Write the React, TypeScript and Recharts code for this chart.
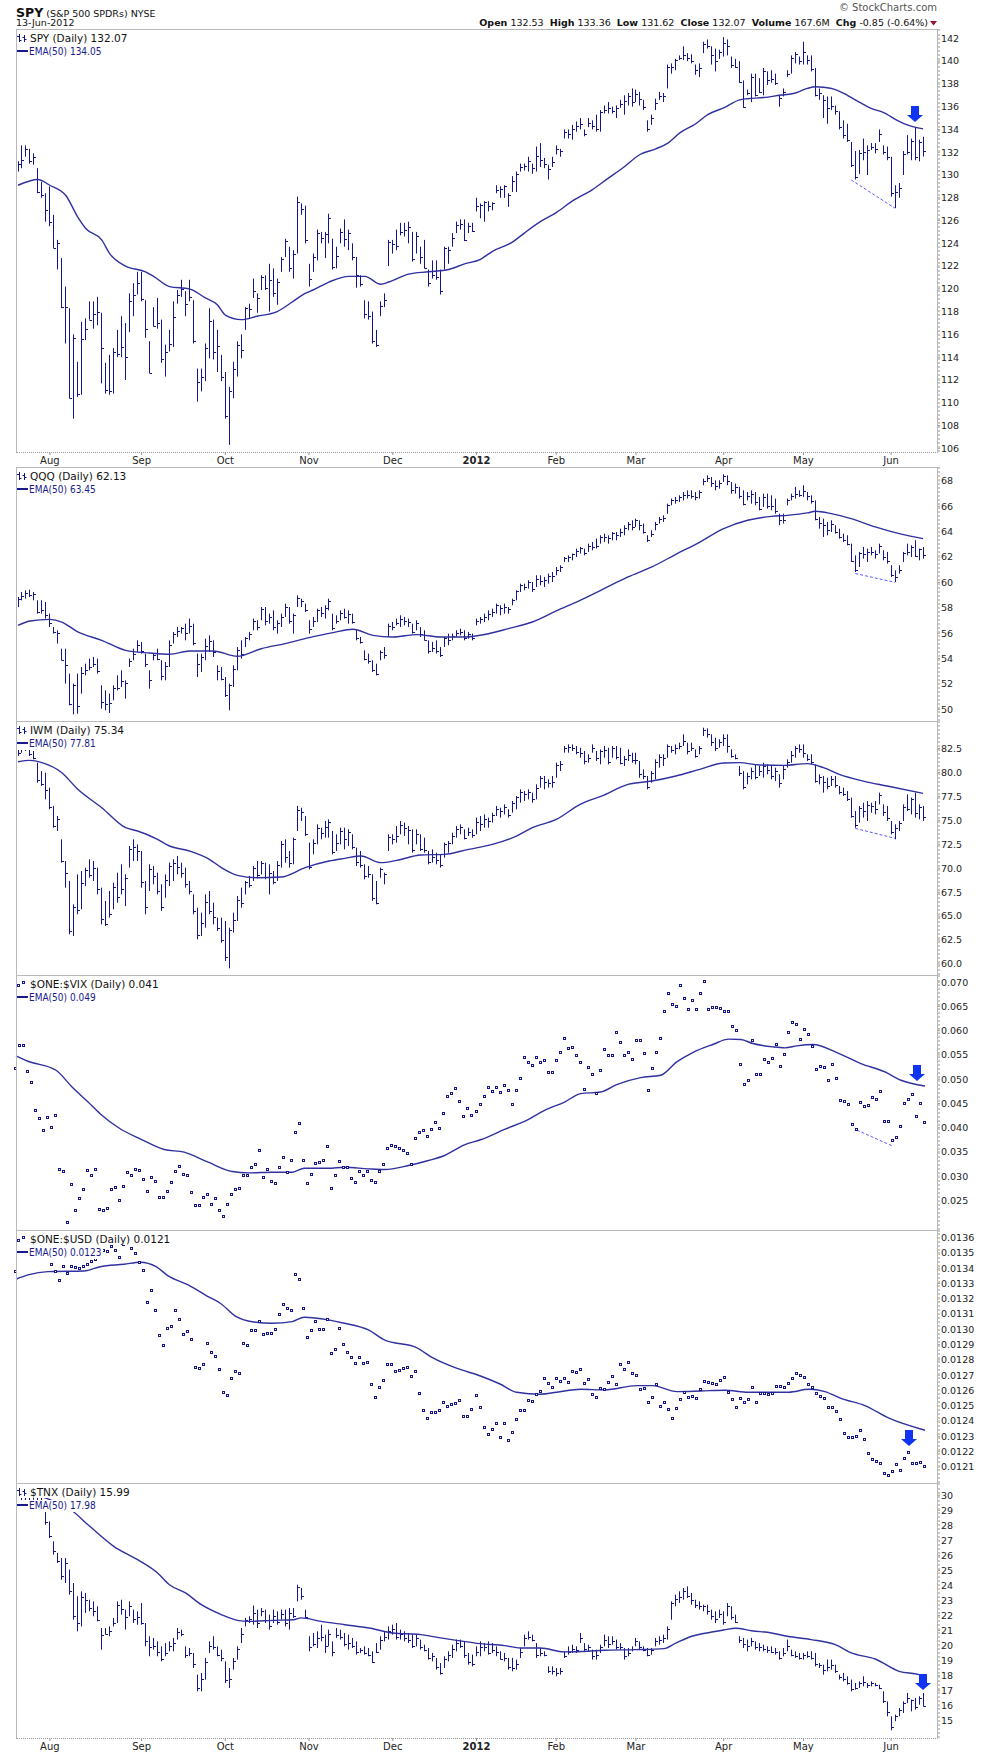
import React from 'react'
import { ComposedChart, Bar, Line, XAxis, YAxis, ReferenceLine, ReferenceDot } from 'recharts'

const FONT = "'DejaVu Sans', Verdana, sans-serif"
const NARROW = "'DejaVu Sans Condensed', 'Liberation Sans Narrow', 'DejaVu Sans', sans-serif"
const BAR_BLUE = '#14148c'
const EMA_BLUE = '#30309f'
const ARROW_BLUE = '#1034f2'
const DASH_BLUE = '#5c5cff'

// 228 trading days (20-Jul-2011 .. 13-Jun-2012) plus 3 empty slots at the right edge
const SLOTS = 231

// first trading day of each month (day index) and its label
const monthDays = [8, 31, 52, 73, 94, 115, 135, 155, 177, 197, 219]
const monthNames = ['Aug', 'Sep', 'Oct', 'Nov', 'Dec', '2012', 'Feb', 'Mar', 'Apr', 'May', 'Jun']

type Pair = [number, number]

// ---------------- SPY ----------------
const spyHigh = [
  131.2, 132.6, 132.6, 132.3, 131.9, 130.6, 129.4, 128.4, 129.0, 126.5,
  124.3, 122.7, 120.2, 118.3, 116.0, 113.6, 117.1, 117.4, 118.9, 118.9,
  119.3, 117.9, 113.5, 114.2, 114.8, 116.4, 117.6, 117.0, 119.6, 120.5,
  121.5, 121.5, 119.0, 115.4, 118.4, 119.2, 117.3, 115.1, 116.4, 118.9,
  119.9, 120.8, 119.8, 120.8, 119.0, 113.0, 113.0, 115.2, 118.3, 117.3,
  116.4, 114.2, 112.7, 111.4, 113.6, 115.4, 116.0, 118.4, 118.7, 120.9,
  119.6, 121.2, 121.2, 122.2, 121.8, 120.9, 122.8, 124.4, 123.7, 123.4,
  128.1, 127.5, 127.3, 122.2, 123.1, 125.2, 125.0, 125.0, 126.6, 124.4,
  123.7, 125.3, 126.1, 125.2, 124.0, 122.8, 121.2, 119.0, 118.9, 118.0,
  116.4, 118.9, 119.6, 124.3, 124.3, 125.2, 125.8, 125.8, 125.9, 125.0,
  125.0, 123.7, 124.3, 121.7, 122.5, 122.5, 121.7, 123.7, 123.7, 124.9,
  125.9, 126.1, 126.1, 125.8, 125.8, 128.0, 127.5, 127.7, 127.7, 127.6,
  129.1, 129.0, 129.1, 128.4, 129.9, 130.3, 131.0, 131.0, 131.6, 131.0,
  132.5, 132.8, 131.5, 130.9, 131.6, 132.6, 132.3, 134.0, 134.0, 134.4,
  134.7, 135.0, 134.0, 135.0, 134.8, 135.3, 135.7, 136.1, 136.4, 136.0,
  136.1, 136.6, 137.0, 137.2, 137.6, 137.5, 137.3, 136.6, 134.8, 135.3,
  136.7, 137.3, 137.2, 139.7, 139.8, 140.2, 140.5, 141.3, 140.7, 140.6,
  139.7, 139.8, 141.7, 141.9, 141.3, 141.1, 141.0, 142.1, 141.9, 140.4,
  140.2, 140.0, 138.3, 137.5, 138.9, 138.9, 138.5, 139.4, 139.1, 139.2,
  138.9, 137.0, 137.6, 139.2, 140.5, 140.8, 140.4, 141.7, 140.5, 140.5,
  139.4, 137.6, 137.0, 136.9, 136.9, 136.1, 135.6, 134.8, 134.5, 132.9,
  132.1, 132.2, 133.2, 132.6, 132.8, 132.8, 134.0, 132.6, 132.5, 131.6,
  129.1, 129.3, 132.1, 133.5, 133.2, 134.2, 133.1, 133.36,
]
const spyLow = [
  130.3, 130.6, 131.6, 131.0, 130.9, 128.4, 128.0, 125.9, 125.5, 123.6,
  121.7, 118.3, 115.2, 110.4, 108.6, 110.5, 110.7, 115.5, 117.3, 116.5,
  116.8, 111.7, 110.8, 110.7, 110.8, 114.0, 114.0, 112.0, 116.2, 117.6,
  119.5, 118.9, 115.7, 112.6, 116.7, 116.5, 113.5, 112.3, 114.5, 114.9,
  118.7, 119.3, 117.6, 118.9, 115.2, 110.1, 111.0, 111.9, 113.9, 113.8,
  112.7, 111.9, 108.6, 106.3, 110.4, 112.3, 113.9, 116.4, 117.4, 119.2,
  117.9, 119.9, 119.9, 118.0, 119.3, 118.6, 121.5, 122.8, 121.5, 120.9,
  123.1, 126.5, 124.0, 120.2, 121.5, 122.5, 124.0, 122.7, 124.0, 121.7,
  121.8, 124.0, 123.7, 123.4, 122.5, 120.1, 120.2, 117.4, 117.3, 115.2,
  114.9, 117.6, 118.4, 122.0, 123.1, 123.4, 124.7, 124.6, 124.0, 122.4,
  123.1, 122.2, 121.8, 120.2, 120.9, 120.8, 119.5, 121.7, 122.2, 123.7,
  124.9, 125.2, 124.2, 124.9, 125.0, 126.8, 126.2, 125.9, 126.8, 126.9,
  128.4, 128.0, 128.0, 127.2, 128.5, 128.5, 130.3, 130.4, 130.3, 130.1,
  130.3, 130.7, 130.6, 129.6, 130.7, 131.8, 131.6, 133.2, 133.2, 133.1,
  133.8, 134.0, 133.4, 134.2, 134.0, 133.8, 133.8, 135.4, 135.4, 135.4,
  135.0, 135.9, 135.3, 136.1, 136.0, 136.4, 136.1, 135.7, 133.8, 134.4,
  135.7, 136.6, 136.4, 137.6, 138.9, 139.2, 140.1, 140.1, 140.0, 139.8,
  138.8, 138.6, 140.7, 141.1, 139.7, 139.1, 140.2, 140.4, 140.5, 139.4,
  139.4, 138.1, 135.9, 137.0, 136.4, 136.9, 137.2, 137.0, 137.9, 138.1,
  137.9, 136.0, 136.9, 138.6, 138.9, 139.8, 139.7, 139.7, 139.7, 139.1,
  136.9, 136.6, 135.0, 134.5, 135.7, 135.3, 134.0, 133.2, 132.9, 130.7,
  129.6, 130.1, 131.3, 130.0, 132.2, 131.9, 132.9, 131.8, 131.3, 128.1,
  127.1, 128.0, 130.0, 131.8, 131.3, 131.3, 131.2, 131.62,
]
const spyClose = [
  131.0, 131.3, 132.3, 131.2, 131.6, 128.5, 128.2, 126.9, 125.9, 123.6,
  124.0, 118.4, 118.4, 110.4, 115.7, 110.8, 115.6, 116.5, 117.3, 117.8,
  118.0, 114.8, 111.1, 111.0, 114.5, 114.3, 114.9, 114.0, 118.9, 119.5,
  120.5, 119.1, 116.5, 112.6, 116.7, 117.0, 113.8, 114.5, 115.2, 117.5,
  119.5, 120.0, 118.7, 119.3, 115.4, 111.8, 112.3, 114.8, 117.2, 114.5,
  115.0, 112.3, 108.8, 111.0, 113.0, 115.1, 114.6, 118.3, 118.2, 119.8,
  119.2, 121.0, 120.1, 120.8, 119.6, 120.6, 122.6, 124.2, 121.8, 123.1,
  127.6, 127.0, 124.3, 120.9, 122.8, 124.9, 124.5, 124.8, 126.2, 121.9,
  122.9, 125.0, 124.4, 124.9, 122.8, 121.2, 120.4, 117.8, 117.6, 115.4,
  115.1, 118.5, 119.0, 124.1, 123.9, 123.8, 125.0, 125.2, 125.4, 122.6,
  124.6, 122.8, 121.8, 120.5, 121.2, 121.0, 119.8, 123.6, 123.4, 124.5,
  125.6, 125.7, 124.3, 125.5, 125.1, 127.3, 127.4, 127.6, 127.3, 127.5,
  128.7, 128.8, 129.0, 128.2, 129.5, 130.1, 130.7, 130.8, 131.2, 130.6,
  131.7, 131.3, 131.0, 130.5, 131.1, 132.3, 132.1, 133.8, 133.6, 134.0,
  134.3, 134.5, 133.6, 134.6, 134.3, 134.0, 135.5, 135.7, 135.9, 135.6,
  135.9, 136.2, 136.5, 136.9, 136.4, 137.1, 136.7, 136.0, 134.0, 135.0,
  136.3, 136.9, 136.9, 139.5, 139.5, 140.1, 140.3, 140.5, 140.3, 140.0,
  139.2, 139.4, 141.5, 141.3, 140.5, 140.0, 140.8, 141.6, 141.3, 139.7,
  139.5, 138.2, 136.0, 137.2, 138.6, 137.0, 137.3, 139.1, 138.3, 138.4,
  138.1, 136.8, 137.3, 138.9, 140.3, 140.6, 140.0, 140.8, 140.1, 139.3,
  137.0, 137.2, 136.6, 135.9, 136.1, 135.6, 134.2, 133.5, 133.1, 130.9,
  129.8, 131.9, 132.0, 132.2, 132.5, 132.3, 133.6, 132.0, 131.6, 128.4,
  128.5, 128.9, 131.8, 132.0, 133.0, 131.6, 132.9, 132.07,
]
// [day, EMA(50)]
const spyEma: Pair[] = [
  [0, 129.1], [5, 129.6], [8, 129.1], [12, 128.2], [15, 126.3], [17, 125.3], [21, 124.3], [23, 123.1],
  [27, 122.0], [32, 121.5], [34, 121.1], [38, 120.2], [43, 120.0], [47, 119.2], [50, 118.6], [52, 117.7],
  [56, 117.3], [60, 117.6], [65, 118.0], [69, 118.9], [72, 119.6], [74, 119.9], [78, 120.6], [83, 121.1],
  [87, 121.1], [91, 120.4], [93, 120.6], [98, 121.3], [103, 121.5], [108, 121.7], [112, 122.2], [116, 122.6],
  [119, 123.3], [124, 124.1], [127, 124.9], [131, 125.9], [135, 126.7], [139, 127.7], [144, 128.7], [148, 129.7],
  [152, 130.7], [156, 131.8], [160, 132.3], [163, 132.8], [166, 133.7], [170, 134.5], [173, 135.3], [177, 135.9],
  [181, 136.6], [183, 136.7], [187, 136.8], [191, 137.0], [195, 137.2], [198, 137.6], [200, 137.75], [202, 137.7],
  [205, 137.5], [208, 137.0], [211, 136.4], [214, 135.85], [217, 135.5], [221, 134.7], [223, 134.4], [227, 134.05],
]
const spyTicks = [106, 108, 110, 112, 114, 116, 118, 120, 122, 124, 126, 128, 130, 132, 134, 136, 138, 140, 142]

// ---------------- QQQ ----------------
const qqqHigh = [
  58.85, 59.25, 59.38, 59.43, 59.25, 58.59, 58.59, 58.46, 57.54, 56.49,
  56.23, 54.78, 54.78, 52.82, 52.03, 52.82, 53.34, 53.6, 54.0, 54.13,
  54.0, 51.9, 51.5, 51.24, 51.9, 52.68, 53.08, 52.29, 54.0, 54.78,
  55.44, 55.31, 54.39, 53.08, 54.39, 54.78, 53.87, 53.73, 55.44, 56.1,
  56.49, 56.49, 56.75, 57.15, 56.75, 54.39, 54.39, 55.57, 55.83, 55.44,
  53.47, 53.34, 52.55, 52.03, 53.47, 54.91, 55.44, 55.7, 56.1, 57.15,
  57.02, 58.06, 58.06, 57.54, 57.8, 57.02, 57.54, 58.33, 58.06, 57.54,
  58.98, 58.72, 58.33, 57.02, 57.28, 57.93, 58.06, 58.2, 58.72, 57.54,
  57.41, 57.8, 57.93, 57.8, 57.54, 56.23, 55.7, 54.65, 54.39, 53.87,
  53.6, 54.65, 54.91, 56.75, 56.88, 57.15, 57.41, 57.28, 57.15, 56.75,
  57.02, 56.49, 56.23, 55.44, 55.31, 55.44, 54.91, 55.7, 55.97, 55.97,
  56.23, 56.36, 56.23, 56.1, 55.97, 57.15, 57.28, 57.54, 57.8, 57.93,
  58.33, 58.2, 58.33, 58.06, 58.72, 59.38, 59.9, 59.9, 60.17, 60.03,
  60.56, 60.56, 60.43, 60.69, 60.82, 61.21, 61.35, 62.0, 62.13, 62.27,
  62.66, 62.79, 62.66, 63.05, 63.18, 63.45, 63.71, 63.84, 63.71, 63.97,
  63.97, 64.23, 64.5, 64.76, 64.89, 65.02, 64.89, 64.63, 63.71, 64.1,
  64.76, 65.15, 65.28, 66.2, 66.6, 66.73, 66.86, 67.12, 67.25, 67.25,
  67.12, 67.25, 68.17, 68.43, 68.3, 68.04, 68.04, 68.51, 68.43, 67.91,
  67.78, 67.52, 67.25, 67.12, 67.25, 67.12, 66.73, 66.99, 66.99, 66.86,
  66.6, 65.41, 65.41, 66.6, 66.99, 67.52, 67.25, 67.65, 67.12, 66.86,
  66.46, 65.15, 65.02, 64.76, 64.89, 64.5, 64.23, 63.84, 63.71, 63.05,
  62.13, 62.4, 62.79, 62.66, 62.79, 62.53, 63.05, 62.53, 62.4, 61.35,
  60.95, 61.35, 62.4, 63.05, 62.92, 63.32, 62.66, 62.79,
]
const qqqLow = [
  58.06, 58.59, 58.72, 58.85, 58.59, 57.54, 57.54, 57.15, 56.49, 55.97,
  55.18, 53.87, 52.03, 50.32, 49.61, 49.66, 51.24, 52.68, 53.08, 53.34,
  52.82, 50.06, 49.93, 49.72, 50.72, 51.5, 51.76, 50.85, 53.34, 53.87,
  54.52, 54.39, 53.34, 51.63, 53.87, 53.87, 52.29, 52.29, 53.34, 55.18,
  55.7, 55.97, 55.44, 55.97, 55.05, 52.55, 52.95, 53.87, 54.52, 54.13,
  52.29, 52.29, 50.98, 49.93, 51.76, 53.08, 54.0, 54.91, 55.44, 56.23,
  56.23, 57.02, 56.62, 56.75, 56.23, 55.97, 56.49, 57.28, 56.75, 55.97,
  58.06, 58.06, 57.67, 55.97, 56.49, 56.88, 57.28, 57.15, 57.8, 56.23,
  56.75, 57.02, 57.15, 56.75, 56.75, 55.44, 55.18, 53.87, 53.6, 52.95,
  52.68, 53.87, 54.0, 55.7, 56.23, 56.62, 56.49, 56.62, 56.49, 55.97,
  56.23, 55.7, 55.44, 54.39, 54.52, 54.39, 54.13, 54.91, 55.05, 55.44,
  55.7, 55.83, 55.44, 55.57, 55.44, 56.62, 56.75, 56.88, 57.02, 57.28,
  57.54, 57.41, 57.54, 57.54, 58.2, 58.59, 59.25, 59.38, 59.51, 59.25,
  59.64, 59.77, 59.64, 59.9, 60.03, 60.56, 60.82, 61.61, 61.61, 61.74,
  62.0, 62.27, 62.13, 62.4, 62.53, 62.66, 63.05, 63.18, 63.05, 63.32,
  63.32, 63.58, 63.71, 64.1, 64.1, 64.37, 64.1, 63.84, 63.18, 63.58,
  64.1, 64.63, 64.76, 65.41, 66.07, 66.2, 66.33, 66.46, 66.6, 66.6,
  66.46, 66.6, 67.65, 67.91, 67.52, 67.25, 67.38, 67.91, 67.65, 66.99,
  66.99, 66.6, 66.07, 66.46, 66.2, 66.07, 65.68, 65.94, 65.81, 65.68,
  65.41, 64.5, 64.63, 66.07, 66.46, 66.6, 66.73, 66.73, 66.46, 66.2,
  64.89, 64.23, 63.58, 63.71, 63.97, 63.84, 63.45, 63.18, 62.92, 61.61,
  60.82, 61.21, 61.87, 61.61, 62.13, 61.87, 62.27, 61.74, 61.48, 60.43,
  60.03, 60.69, 61.61, 62.13, 62.0, 62.0, 61.74, 61.87,
]
const qqqClose = [
  58.7, 58.9, 59.2, 59.0, 59.1, 57.7, 57.8, 57.4, 56.8, 56.1,
  56.0, 53.9, 53.5, 50.4, 51.9, 50.3, 52.9, 53.1, 53.3, 53.6,
  53.0, 50.6, 50.4, 50.5, 51.7, 51.7, 52.2, 52.1, 53.8, 54.4,
  55.1, 54.6, 53.6, 52.3, 54.3, 54.0, 52.6, 53.4, 55.1, 55.9,
  56.2, 56.4, 56.0, 56.6, 55.2, 53.6, 54.1, 55.0, 55.4, 54.5,
  53.0, 52.4, 51.1, 51.9, 53.2, 54.7, 54.4, 55.6, 55.9, 57.0,
  56.5, 57.9, 57.0, 57.3, 56.5, 56.8, 57.3, 58.1, 57.0, 57.4,
  58.8, 58.5, 57.8, 56.3, 57.0, 57.8, 57.6, 58.0, 58.5, 56.4,
  57.0, 57.6, 57.3, 57.5, 56.9, 55.6, 55.3, 54.0, 53.8, 53.1,
  52.8, 54.5, 54.3, 56.6, 56.5, 56.8, 57.1, 57.0, 56.9, 56.1,
  56.8, 55.9, 55.5, 54.6, 54.8, 54.6, 54.3, 55.6, 55.5, 55.8,
  56.0, 56.1, 55.6, 55.9, 55.6, 57.0, 57.1, 57.3, 57.5, 57.7,
  58.2, 58.0, 58.1, 57.9, 58.6, 59.3, 59.8, 59.6, 60.0, 59.5,
  60.3, 60.1, 60.2, 60.5, 60.5, 61.0, 61.2, 61.9, 62.0, 62.2,
  62.5, 62.7, 62.3, 62.9, 62.8, 62.9, 63.6, 63.6, 63.5, 63.9,
  63.7, 64.0, 64.3, 64.6, 64.4, 64.9, 64.5, 64.0, 63.3, 63.8,
  64.6, 65.0, 65.1, 66.1, 66.5, 66.5, 66.7, 66.9, 66.9, 66.8,
  66.7, 67.1, 68.0, 68.2, 67.8, 67.6, 67.8, 68.4, 68.0, 67.3,
  67.5, 66.8, 66.2, 66.8, 67.0, 66.3, 65.8, 66.7, 66.0, 66.0,
  65.6, 64.9, 64.9, 66.5, 66.8, 67.0, 66.9, 67.2, 66.8, 66.4,
  65.0, 64.7, 64.5, 64.1, 64.6, 64.0, 63.6, 63.3, 63.0, 61.7,
  61.0, 62.3, 62.2, 62.4, 62.4, 62.2, 62.9, 62.0, 61.7, 60.6,
  60.4, 61.0, 62.3, 62.4, 62.8, 62.1, 62.6, 62.13,
]
const qqqEma: Pair[] = [
  [0, 56.62], [3, 56.96], [8, 57.09], [11, 56.88], [15, 56.1], [21, 55.44], [27, 54.65], [33, 54.44],
  [38, 54.34], [43, 54.6], [49, 54.6], [55, 54.18], [61, 54.78], [67, 55.18], [73, 55.65], [79, 56.05],
  [84, 56.31], [89, 55.83], [94, 55.7], [100, 55.89], [106, 55.7], [112, 55.7], [118, 55.96], [123, 56.36],
  [129, 56.88], [135, 57.75], [141, 58.59], [147, 59.51], [153, 60.43], [159, 61.22], [165, 62.21], [171, 63.18],
  [177, 64.23], [183, 64.89], [189, 65.2], [193, 65.28], [198, 65.47], [200, 65.6], [204, 65.42], [209, 65.02],
  [215, 64.37], [221, 63.84], [227, 63.45],
]
const qqqTicks = [50, 52, 54, 56, 58, 60, 62, 64, 66, 68]

// ---------------- IWM ----------------
const iwmHigh = [
  82.41, 82.76, 82.86, 82.76, 82.24, 81.02, 80.15, 79.98, 78.41, 76.5,
  75.45, 73.02, 70.75, 68.67, 66.23, 69.36, 69.71, 70.06, 70.93, 70.75,
  70.06, 67.97, 66.58, 67.62, 68.49, 69.53, 70.41, 69.36, 72.32, 73.02,
  72.49, 71.8, 68.67, 70.41, 70.23, 69.53, 68.32, 69.36, 70.58, 70.93,
  71.28, 70.58, 70.06, 68.67, 67.27, 65.88, 65.36, 67.27, 67.62, 66.4,
  64.84, 64.84, 64.49, 63.79, 65.36, 67.1, 67.97, 68.67, 69.19, 70.23,
  70.75, 70.75, 70.58, 70.41, 69.71, 70.75, 72.84, 73.02, 71.8, 73.19,
  76.5, 76.32, 75.45, 72.67, 73.02, 74.58, 74.23, 74.93, 75.1, 73.89,
  73.54, 74.23, 74.23, 74.06, 73.54, 72.15, 71.8, 70.41, 70.23, 69.36,
  68.67, 70.06, 69.54, 73.54, 73.54, 74.41, 74.93, 74.76, 74.41, 74.06,
  74.06, 73.54, 73.19, 71.8, 71.97, 71.62, 71.45, 72.67, 72.84, 73.71,
  74.41, 74.58, 74.06, 74.23, 74.06, 75.28, 75.45, 75.62, 75.28, 75.8,
  76.5, 76.32, 76.67, 76.15, 77.02, 77.54, 78.24, 78.06, 78.24, 77.89,
  78.76, 79.63, 79.63, 79.28, 79.63, 81.02, 81.2, 82.76, 82.93, 82.93,
  82.76, 82.58, 82.24, 81.89, 82.93, 82.24, 82.41, 82.76, 82.58, 82.76,
  82.76, 82.58, 81.72, 82.41, 82.06, 82.06, 81.2, 80.32, 79.63, 80.15,
  81.37, 81.89, 81.89, 82.93, 82.76, 82.93, 83.11, 83.98, 83.11, 83.11,
  82.41, 82.76, 84.67, 84.6, 83.98, 83.63, 83.46, 83.98, 83.98, 82.41,
  81.89, 80.67, 80.15, 79.98, 80.5, 80.85, 80.67, 81.02, 80.85, 80.67,
  80.5, 79.8, 80.67, 81.37, 82.24, 82.76, 82.93, 82.93, 81.89, 81.89,
  80.85, 79.8, 79.63, 79.45, 79.63, 79.63, 78.58, 78.41, 78.06, 77.37,
  75.97, 76.5, 76.84, 77.02, 76.84, 77.02, 77.89, 76.67, 76.5, 74.93,
  74.58, 74.93, 76.67, 77.71, 77.37, 77.89, 76.67, 76.5,
]
const iwmLow = [
  81.72, 82.06, 82.24, 81.72, 81.37, 78.93, 78.58, 77.19, 76.15, 74.23,
  73.89, 70.58, 67.97, 63.1, 62.92, 65.19, 65.71, 68.14, 69.01, 68.67,
  67.27, 64.14, 63.97, 64.84, 65.71, 66.4, 67.27, 66.05, 70.06, 70.75,
  70.75, 67.97, 65.19, 67.62, 68.32, 67.27, 65.54, 66.92, 68.14, 68.67,
  69.36, 69.01, 67.97, 67.27, 65.19, 62.58, 62.92, 63.79, 65.19, 64.14,
  63.45, 62.23, 60.31, 59.55, 63.27, 64.49, 65.88, 67.27, 67.97, 68.67,
  69.01, 69.36, 68.84, 67.27, 68.32, 68.67, 70.06, 70.58, 70.06, 70.41,
  73.89, 74.93, 73.37, 69.88, 71.45, 72.49, 73.02, 73.19, 73.19, 71.45,
  71.8, 72.49, 71.97, 72.32, 71.97, 70.23, 70.06, 68.84, 69.01, 66.58,
  66.23, 69.01, 68.32, 71.8, 72.49, 72.67, 73.54, 73.37, 72.49, 71.62,
  72.49, 71.8, 71.62, 70.41, 70.58, 70.41, 70.06, 71.1, 71.62, 72.49,
  73.19, 73.54, 73.02, 73.37, 73.19, 73.54, 73.89, 74.23, 74.23, 74.76,
  75.45, 75.28, 75.62, 75.28, 75.8, 76.15, 76.84, 77.02, 77.19, 76.84,
  77.19, 78.41, 78.24, 78.41, 78.41, 79.45, 80.15, 82.06, 82.06, 82.24,
  81.89, 81.54, 80.85, 81.02, 82.06, 81.2, 80.85, 81.54, 80.85, 81.54,
  81.37, 80.85, 80.67, 81.2, 81.02, 80.85, 79.45, 79.28, 78.24, 78.93,
  79.28, 80.5, 80.67, 81.54, 82.06, 81.89, 82.41, 82.76, 81.89, 82.24,
  81.54, 81.89, 83.8, 83.63, 82.76, 82.24, 82.58, 82.76, 82.06, 81.54,
  81.37, 79.63, 78.24, 78.76, 79.28, 79.28, 79.63, 79.45, 79.8, 79.28,
  79.1, 78.41, 79.28, 80.5, 81.02, 81.54, 82.06, 81.54, 81.2, 80.85,
  78.93, 78.76, 77.89, 78.24, 78.58, 78.41, 77.71, 77.54, 77.02, 75.28,
  74.23, 74.76, 75.28, 74.93, 75.8, 75.62, 76.67, 75.45, 74.93, 73.54,
  73.02, 73.89, 74.93, 75.97, 75.62, 75.28, 75.1, 74.93,
]
const iwmClose = [
  82.0, 82.5, 82.7, 81.9, 81.5, 79.2, 78.8, 78.2, 76.4, 74.4,
  75.1, 70.8, 69.5, 63.4, 66.0, 65.6, 68.5, 69.8, 69.3, 70.0,
  67.8, 64.7, 64.2, 65.2, 68.0, 67.0, 67.8, 69.0, 72.0, 72.2,
  71.8, 68.6, 65.9, 69.9, 69.2, 67.6, 66.0, 68.8, 70.2, 70.5,
  70.1, 69.5, 68.4, 67.6, 65.5, 63.0, 64.3, 66.5, 65.5, 64.9,
  63.8, 62.5, 60.7, 63.5, 64.6, 66.7, 66.4, 68.6, 68.3, 70.0,
  69.3, 70.5, 69.1, 69.5, 68.6, 70.3, 72.5, 71.2, 70.5, 73.0,
  76.1, 75.9, 73.6, 70.1, 72.6, 74.2, 73.7, 74.3, 74.8, 71.7,
  72.6, 73.9, 73.0, 73.8, 72.2, 70.6, 70.3, 69.2, 69.4, 66.9,
  66.4, 69.9, 69.4, 73.3, 73.0, 73.4, 74.5, 74.2, 74.0, 71.9,
  73.6, 72.0, 71.9, 70.7, 71.2, 70.9, 70.3, 72.5, 72.6, 73.4,
  74.1, 74.3, 73.2, 73.8, 73.5, 74.8, 74.6, 75.1, 74.9, 75.6,
  76.2, 76.0, 76.4, 75.6, 76.8, 77.4, 78.0, 77.8, 78.0, 77.2,
  78.4, 79.4, 79.0, 78.9, 79.0, 80.8, 80.9, 82.5, 82.7, 82.5,
  82.1, 82.0, 81.2, 81.5, 82.6, 81.5, 82.2, 82.3, 81.1, 82.5,
  81.6, 81.0, 81.4, 81.8, 81.3, 81.3, 79.8, 79.6, 78.5, 79.9,
  81.1, 81.6, 81.5, 82.8, 82.3, 82.6, 82.8, 83.3, 82.2, 82.6,
  81.7, 82.6, 84.4, 84.0, 83.2, 82.6, 83.2, 83.6, 82.8, 81.7,
  81.5, 79.9, 78.5, 79.6, 80.2, 79.5, 80.2, 80.7, 80.3, 79.6,
  80.1, 78.9, 80.4, 81.1, 81.8, 82.5, 82.4, 82.0, 81.4, 81.1,
  79.1, 79.5, 79.0, 78.6, 79.3, 78.7, 78.0, 77.7, 77.2, 75.5,
  74.5, 76.3, 76.0, 76.6, 76.5, 76.2, 77.6, 75.9, 75.2, 73.8,
  74.2, 74.7, 76.4, 76.2, 77.2, 75.8, 76.4, 75.34,
]
const iwmEma: Pair[] = [
  [0, 81.12], [3, 81.26], [6, 81.02], [11, 79.97], [15, 78.24], [21, 76.32], [27, 74.23], [30, 73.89],
  [35, 73.02], [38, 72.32], [43, 71.8], [48, 70.93], [51, 70.06], [55, 69.26], [60, 69.01], [66, 69.08],
  [72, 70.06], [78, 70.75], [82, 71.03], [86, 71.28], [91, 70.58], [95, 70.82], [101, 71.38], [107, 71.45],
  [113, 71.97], [119, 72.49], [125, 73.36], [129, 74.23], [135, 75.1], [141, 76.67], [147, 77.64], [153, 78.76],
  [159, 79.1], [165, 79.63], [171, 80.32], [177, 80.98], [181, 81.02], [186, 80.78], [192, 80.74], [198, 80.92],
  [202, 80.5], [206, 79.8], [212, 79.1], [218, 78.58], [227, 77.81],
]
const iwmTicks = [60, 62.5, 65, 67.5, 70, 72.5, 75, 77.5, 80, 82.5]

// ---------------- $ONE:$VIX ----------------
const vixRatio = [
  0.05219, 0.0568, 0.05694, 0.0515, 0.0493, 0.04337, 0.04186, 0.03938, 0.042, 0.04,
  0.04248, 0.03139, 0.03097, 0.02037, 0.02822, 0.02285, 0.02533, 0.02719, 0.03111, 0.03008,
  0.03132, 0.02306, 0.02292, 0.02326, 0.02719, 0.0276, 0.02491, 0.02781, 0.03063, 0.03008,
  0.03132, 0.03118, 0.02925, 0.02671, 0.02967, 0.02884, 0.02547, 0.02547, 0.02671, 0.02856,
  0.03091, 0.03187, 0.03036, 0.03001, 0.02657, 0.02395, 0.02395, 0.02547, 0.02622, 0.02409,
  0.02533, 0.02285, 0.02161, 0.02409, 0.02615, 0.02719, 0.02739, 0.03008, 0.03008, 0.03166,
  0.03228, 0.03511, 0.02974, 0.03132, 0.02877, 0.02843, 0.03166, 0.0338, 0.0307, 0.03318,
  0.03896, 0.04068, 0.03318, 0.02843, 0.03029, 0.03256, 0.03277, 0.03318, 0.03607, 0.02739,
  0.03008, 0.03297, 0.03173, 0.03173, 0.02946, 0.02863, 0.03091, 0.03001, 0.03091, 0.02905,
  0.02863, 0.03091, 0.03235, 0.03566, 0.03628, 0.03607, 0.03566, 0.03524, 0.03462, 0.03235,
  0.03772, 0.03896, 0.03938, 0.03814, 0.03958, 0.04103, 0.03979, 0.04289, 0.0464, 0.04702,
  0.04805, 0.04537, 0.04227, 0.04392, 0.04248, 0.0433, 0.04475, 0.0464, 0.04826, 0.04743,
  0.04826, 0.04723, 0.04867, 0.04764, 0.04475, 0.04764, 0.05012, 0.05446, 0.05343, 0.05281,
  0.05446, 0.05343, 0.05384, 0.05136, 0.05136, 0.05384, 0.05549, 0.05838, 0.05632, 0.05652,
  0.05487, 0.05343, 0.04785, 0.05239, 0.05095, 0.04702, 0.05177, 0.05611, 0.05487, 0.05487,
  0.05942, 0.05756, 0.05487, 0.05549, 0.05405, 0.05777, 0.05777, 0.05529, 0.04764, 0.05219,
  0.05549, 0.05838, 0.06376, 0.06748, 0.0652, 0.06479, 0.06913, 0.06644, 0.06417, 0.06603,
  0.06417, 0.06748, 0.06996, 0.06417, 0.06458, 0.06458, 0.06438, 0.06376, 0.06376, 0.06066,
  0.05983, 0.05301, 0.04888, 0.04971, 0.05797, 0.05095, 0.05095, 0.05405, 0.05343, 0.05425,
  0.05715, 0.0526, 0.05508, 0.05942, 0.06148, 0.06107, 0.05818, 0.06004, 0.05921, 0.05673,
  0.05198, 0.0526, 0.05239, 0.04971, 0.05301, 0.05012, 0.04557, 0.04537, 0.04475, 0.04062,
  0.03958, 0.04516, 0.04433, 0.04454, 0.0462, 0.04578, 0.04743, 0.04124, 0.04124, 0.03731,
  0.03793, 0.0402, 0.04496, 0.04578, 0.04681, 0.04227, 0.04496, 0.04103,
]
const vixEma: Pair[] = [
  [0, 0.0548], [3, 0.0537], [10, 0.05184], [14, 0.0484], [18, 0.0453], [21, 0.04289], [26, 0.03979], [31, 0.03772],
  [37, 0.03552], [42, 0.03497], [48, 0.0329], [54, 0.03097], [58, 0.0307], [64, 0.03084], [69, 0.03084], [72, 0.03166],
  [78, 0.03166], [82, 0.03187], [88, 0.03153], [92, 0.03139], [98, 0.03221], [103, 0.03325], [107, 0.03428], [112, 0.03648],
  [116, 0.03752], [122, 0.03965], [128, 0.04172], [132, 0.04358], [137, 0.0453], [141, 0.04702], [146, 0.04736], [150, 0.04888],
  [156, 0.05033], [161, 0.05081], [165, 0.05356], [169, 0.05549], [174, 0.05715], [178, 0.05825], [181, 0.05818], [184, 0.05735],
  [189, 0.05666], [192, 0.05646], [195, 0.05687], [199, 0.05715], [205, 0.05549], [211, 0.05322], [217, 0.0515], [221, 0.04978],
  [227, 0.0486],
]
const vixTicks = [0.025, 0.03, 0.035, 0.04, 0.045, 0.05, 0.055, 0.06, 0.065, 0.07]

// ---------------- $ONE:$USD ----------------
const usdRatio = [
  0.013373, 0.013476, 0.01348, 0.013498, 0.013513, 0.013491, 0.01348, 0.013469, 0.013465, 0.013421,
  0.013373, 0.013317, 0.013406, 0.013363, 0.013406, 0.0134, 0.013393, 0.013406, 0.013421, 0.013439,
  0.013454, 0.013472, 0.013511, 0.013504, 0.013541, 0.013511, 0.013465, 0.01355, 0.013567, 0.013524,
  0.013493, 0.013432, 0.013382, 0.013171, 0.013251, 0.013121, 0.012957, 0.012892, 0.013001, 0.013016,
  0.013121, 0.013062, 0.012964, 0.012983, 0.012931, 0.012746, 0.012739, 0.012767, 0.012903, 0.012844,
  0.01282, 0.012733, 0.012586, 0.012565, 0.012674, 0.012719, 0.012711, 0.012903, 0.012892, 0.01299,
  0.01299, 0.013051, 0.012964, 0.012968, 0.012972, 0.012996, 0.013094, 0.013158, 0.013136, 0.013121,
  0.013356, 0.013323, 0.013131, 0.012942, 0.01299, 0.013051, 0.012994, 0.012994, 0.013062, 0.012837,
  0.012863, 0.013001, 0.012898, 0.012844, 0.012811, 0.012776, 0.012811, 0.012776, 0.012783, 0.012634,
  0.012549, 0.012615, 0.012663, 0.012765, 0.012765, 0.012722, 0.012728, 0.012743, 0.012746, 0.012689,
  0.012722, 0.01258, 0.012467, 0.012416, 0.012456, 0.012456, 0.012467, 0.012517, 0.012495, 0.012506,
  0.012515, 0.012532, 0.012427, 0.012427, 0.012471, 0.012565, 0.012484, 0.012353, 0.012307, 0.01234,
  0.012379, 0.012292, 0.012379, 0.01227, 0.012325, 0.012406, 0.012467, 0.012467, 0.012532, 0.012525,
  0.012569, 0.012591, 0.012674, 0.012641, 0.012619, 0.012674, 0.012656, 0.012674, 0.012652, 0.012724,
  0.012717, 0.012733, 0.012645, 0.012667, 0.012569, 0.012554, 0.012608, 0.012602, 0.012652, 0.012689,
  0.012634, 0.012767, 0.012733, 0.012783, 0.012706, 0.012695, 0.012602, 0.012608, 0.012521, 0.012549,
  0.012634, 0.012493, 0.012521, 0.012473, 0.012412, 0.012477, 0.012536, 0.012586, 0.012554, 0.012558,
  0.012543, 0.012602, 0.012658, 0.012652, 0.012641, 0.012634, 0.012663, 0.012685, 0.012582, 0.012536,
  0.012488, 0.012543, 0.012521, 0.012536, 0.012615, 0.012517, 0.012576, 0.01258, 0.012571, 0.012576,
  0.012626, 0.012626, 0.012619, 0.012641, 0.012674, 0.012706, 0.012695, 0.01268, 0.012637, 0.012619,
  0.012576, 0.012558, 0.012543, 0.012488, 0.012488, 0.01246, 0.012406, 0.012314, 0.012292, 0.012292,
  0.012297, 0.012336, 0.012275, 0.012183, 0.012144, 0.012133, 0.012122, 0.012052, 0.012041, 0.012068,
  0.012111, 0.012074, 0.01215, 0.01219, 0.012122, 0.012118, 0.012129, 0.0121,
]
const usdEma: Pair[] = [
  [0, 0.013328], [3, 0.013356], [8, 0.013378], [17, 0.013382], [21, 0.01341], [27, 0.013426], [31, 0.013439], [35, 0.01341],
  [38, 0.01335], [43, 0.013291], [48, 0.013214], [51, 0.013171], [55, 0.013083], [58, 0.013055], [64, 0.01304], [69, 0.013051],
  [72, 0.013079], [78, 0.013062], [82, 0.01304], [88, 0.012996], [92, 0.012931], [100, 0.012881], [104, 0.012815], [110, 0.012746],
  [116, 0.012695], [121, 0.012641], [125, 0.012589], [131, 0.012576], [135, 0.012589], [141, 0.012608], [147, 0.012604], [155, 0.012632],
  [159, 0.012632], [165, 0.012593], [171, 0.012597], [177, 0.012602], [183, 0.012589], [189, 0.012589], [193, 0.012589], [198, 0.012608],
  [202, 0.012593], [206, 0.012549], [212, 0.012501], [218, 0.012419], [227, 0.01234],
]
const usdTicks = [0.0121, 0.0122, 0.0123, 0.0124, 0.0125, 0.0126, 0.0127, 0.0128, 0.0129, 0.013, 0.0131, 0.0132, 0.0133, 0.0134, 0.0135, 0.0136]

// ---------------- $TNX ----------------
const tnxHigh = [
  29.21, 30.2, 30.1, 30.0, 30.2, 30.1, 29.9, 29.15, 28.26, 26.93,
  26.16, 25.82, 25.82, 25.05, 24.16, 23.28, 23.61, 23.5, 23.05, 22.94,
  22.61, 21.17, 21.17, 21.28, 21.84, 22.94, 23.05, 22.39, 22.94, 22.39,
  22.28, 22.83, 21.5, 20.62, 20.51, 20.28, 19.95, 20.17, 20.28, 20.51,
  21.17, 21.06, 19.95, 19.84, 19.51, 18.07, 18.18, 19.18, 20.28, 20.62,
  19.95, 19.73, 18.95, 18.51, 19.18, 19.95, 21.17, 21.84, 21.95, 22.66,
  22.39, 22.5, 22.39, 22.06, 22.39, 22.28, 22.39, 22.39, 22.5, 22.5,
  24.05, 23.83, 22.39, 20.62, 20.84, 20.95, 21.39, 20.73, 21.06, 20.28,
  21.17, 21.06, 20.84, 20.73, 20.51, 20.28, 19.84, 19.95, 19.84, 19.62,
  20.17, 20.62, 20.95, 21.28, 21.39, 21.5, 21.06, 20.95, 20.84, 20.73,
  20.73, 20.4, 20.06, 19.84, 19.51, 19.18, 18.84, 19.29, 19.62, 20.06,
  20.4, 20.4, 20.28, 19.51, 19.4, 19.95, 20.28, 20.17, 20.28, 20.17,
  19.95, 19.62, 19.51, 19.18, 19.18, 19.07, 19.84, 20.73, 20.95, 20.73,
  20.17, 19.84, 19.62, 18.62, 18.62, 18.51, 18.51, 19.62, 19.95, 20.06,
  19.95, 20.84, 20.17, 20.06, 19.73, 19.73, 20.06, 20.73, 20.62, 20.62,
  20.4, 20.17, 19.84, 19.84, 19.95, 20.51, 20.28, 19.95, 19.84, 19.84,
  20.51, 20.62, 20.73, 21.28, 22.94, 23.39, 23.61, 23.83, 23.94, 23.5,
  23.05, 22.94, 22.72, 22.72, 22.39, 22.28, 22.39, 22.28, 22.83, 22.61,
  22.06, 20.62, 20.51, 20.4, 20.51, 20.28, 20.17, 20.06, 19.95, 19.95,
  19.84, 19.62, 19.84, 20.4, 19.73, 19.62, 19.51, 19.51, 19.62, 19.62,
  19.51, 18.84, 18.73, 19.07, 19.07, 18.73, 18.07, 18.18, 17.96, 17.74,
  17.51, 17.62, 17.96, 17.51, 17.62, 17.51, 17.4, 16.96, 16.29, 15.3,
  15.41, 15.85, 16.29, 16.85, 16.41, 16.52, 16.63, 16.85,
]
const tnxLow = [
  28.93, 29.4, 29.5, 29.5, 29.7, 29.5, 29.3, 28.04, 27.15, 26.05,
  25.49, 24.38, 24.16, 23.39, 21.72, 20.95, 21.28, 22.17, 22.28, 21.95,
  21.61, 19.73, 20.73, 20.62, 21.28, 21.5, 22.06, 21.06, 21.95, 21.5,
  21.39, 21.39, 19.95, 19.29, 19.73, 19.29, 18.95, 19.29, 19.62, 19.62,
  20.4, 20.62, 19.18, 19.29, 18.51, 16.96, 16.96, 17.74, 19.51, 19.73,
  19.29, 18.95, 17.51, 17.18, 18.4, 19.07, 20.17, 21.28, 21.5, 21.39,
  21.17, 21.95, 21.5, 21.06, 21.5, 21.39, 21.72, 21.28, 21.06, 21.84,
  22.94, 23.05, 21.84, 19.62, 19.95, 19.84, 20.28, 19.51, 19.95, 19.29,
  20.51, 20.4, 19.95, 19.73, 19.84, 19.4, 19.51, 19.4, 19.29, 18.84,
  19.51, 19.73, 20.28, 20.4, 20.73, 20.4, 20.4, 20.28, 20.17, 19.84,
  19.95, 19.73, 19.62, 19.07, 18.95, 18.4, 18.07, 18.51, 18.95, 19.18,
  19.62, 19.84, 19.18, 18.73, 18.62, 19.29, 19.29, 19.62, 19.4, 19.51,
  19.29, 19.07, 18.95, 18.4, 18.29, 18.4, 19.18, 19.95, 20.4, 20.28,
  19.18, 19.29, 19.29, 18.18, 18.07, 17.96, 18.07, 19.18, 19.4, 19.51,
  19.51, 20.17, 19.62, 19.62, 19.07, 19.07, 19.51, 19.95, 19.84, 20.06,
  19.73, 19.73, 19.07, 19.29, 19.62, 19.95, 19.73, 19.62, 19.29, 19.4,
  19.95, 20.06, 20.17, 20.4, 21.72, 22.61, 22.83, 23.05, 23.16, 22.72,
  22.5, 22.39, 22.28, 22.06, 21.72, 21.5, 21.84, 21.39, 21.95, 21.72,
  21.5, 20.17, 19.84, 19.62, 19.95, 19.73, 19.62, 19.62, 19.51, 19.51,
  19.4, 19.07, 19.29, 19.62, 19.29, 19.18, 19.07, 19.07, 19.18, 19.07,
  18.62, 18.51, 18.07, 18.29, 18.4, 18.18, 17.74, 17.62, 17.4, 16.96,
  17.07, 17.18, 17.29, 17.18, 17.29, 17.29, 17.1, 16.18, 15.3, 14.37,
  14.97, 15.3, 15.52, 16.18, 15.63, 15.74, 16.07, 15.96,
]
const tnxClose = [
  29.0, 30.0, 29.6, 29.9, 30.0, 29.7, 29.4, 28.2, 27.3, 26.3,
  25.6, 24.6, 25.5, 23.6, 22.0, 21.5, 23.2, 23.0, 22.5, 22.3,
  21.7, 20.7, 20.8, 21.0, 21.5, 22.7, 22.4, 21.9, 22.6, 21.8,
  21.9, 21.5, 20.3, 19.9, 20.0, 19.6, 19.1, 19.5, 20.0, 20.2,
  20.9, 20.8, 19.4, 19.5, 18.8, 17.2, 17.8, 18.9, 20.0, 19.9,
  19.4, 19.2, 17.7, 17.8, 19.0, 19.8, 20.8, 21.7, 21.8, 22.2,
  21.5, 22.3, 21.7, 21.3, 22.0, 21.6, 22.1, 21.5, 22.2, 22.0,
  23.9, 23.3, 21.9, 19.9, 20.1, 20.5, 20.6, 20.0, 20.8, 19.6,
  20.7, 20.6, 20.1, 20.2, 20.0, 19.6, 19.7, 19.5, 19.4, 18.9,
  19.6, 20.4, 20.6, 21.0, 21.1, 20.6, 20.8, 20.5, 20.4, 20.0,
  20.5, 19.9, 19.7, 19.2, 19.3, 18.6, 18.2, 19.1, 19.4, 19.8,
  20.2, 20.0, 19.4, 18.9, 18.8, 19.6, 19.9, 19.9, 19.5, 19.7,
  19.6, 19.1, 19.2, 18.6, 18.5, 18.8, 19.6, 20.5, 20.6, 20.4,
  19.4, 19.5, 19.4, 18.3, 18.3, 18.2, 18.3, 19.3, 19.6, 19.8,
  19.7, 20.5, 19.8, 19.9, 19.3, 19.4, 19.9, 20.4, 20.1, 20.3,
  19.9, 19.9, 19.3, 19.5, 19.8, 20.3, 19.9, 19.7, 19.4, 19.7,
  20.3, 20.4, 20.5, 21.1, 22.8, 23.1, 23.2, 23.6, 23.3, 23.0,
  22.7, 22.6, 22.6, 22.3, 22.0, 21.8, 22.1, 21.6, 22.6, 21.9,
  21.6, 20.4, 20.1, 20.0, 20.3, 19.9, 19.9, 19.8, 19.7, 19.6,
  19.6, 19.2, 19.5, 20.0, 19.4, 19.3, 19.2, 19.4, 19.3, 19.2,
  18.8, 18.7, 18.4, 18.6, 18.7, 18.3, 17.9, 17.8, 17.5, 17.1,
  17.2, 17.5, 17.6, 17.4, 17.5, 17.4, 17.2, 16.3, 15.6, 14.6,
  15.3, 15.7, 16.2, 16.5, 16.4, 15.9, 16.5, 15.99,
]
const tnxEma: Pair[] = [
  [0, 30.3], [7, 29.8], [13, 29.08], [18, 27.93], [24, 26.6], [30, 25.71], [35, 24.83], [38, 24.05],
  [42, 23.5], [46, 22.72], [51, 22.06], [55, 21.68], [58, 21.61], [64, 21.68], [69, 21.72], [71, 21.84],
  [76, 21.61], [82, 21.39], [88, 21.17], [94, 20.84], [101, 20.73], [106, 20.51], [110, 20.35], [116, 20.13],
  [122, 20.0], [126, 19.84], [131, 19.84], [137, 19.58], [143, 19.62], [147, 19.69], [155, 19.73], [162, 19.8],
  [165, 20.17], [169, 20.62], [174, 20.9], [177, 21.04], [180, 21.15], [184, 20.99], [189, 20.84], [193, 20.62],
  [199, 20.4], [205, 20.06], [209, 19.51], [215, 19.11], [221, 18.29], [226, 18.07], [227, 17.98],
]
const tnxTicks = [15, 16, 17, 18, 19, 20, 21, 22, 23, 24, 25, 26, 27, 28, 29, 30]

// annotations: [fromDay, fromValue, toDay, toValue] and [day, arrowTopValue]
const spyDash = [209, 129.56, 220, 127.07]
const qqqDash = [210, 60.7, 220, 60.0]
const iwmDash = [210, 74.16, 220, 73.12]
const vixDash = [210, 0.0395, 219, 0.0362]
const spyArrow = [225, 136.06]
const vixArrow = [225, 0.053]
const usdArrow = [223, 0.012342]
const tnxArrow = [227, 18.13]

function ohlcRows(high: number[], low: number[], close: number[], ema: Pair[]) {
  const emaAt = new Map(ema)
  return Array.from({ length: SLOTS }, (_, i) => ({
    i,
    range: i < close.length ? [low[i], high[i]] : null,
    high: high[i] ?? null,
    low: low[i] ?? null,
    close: close[i] ?? null,
    ema: emaAt.get(i) ?? null,
  }))
}

function dotRows(values: number[], ema: Pair[]) {
  const emaAt = new Map(ema)
  return Array.from({ length: SLOTS }, (_, i) => ({
    i,
    v: values[i] ?? null,
    ema: emaAt.get(i) ?? null,
  }))
}

function renderOhlc(props: any) {
  const { x, y, width, height, payload } = props
  if (!payload || payload.range == null || !Number.isFinite(y)) return <g />
  const top = Math.min(y, y + height)
  const h = Math.max(Math.abs(height), 1)
  const cx = Math.floor(x + width / 2) + 0.5
  const span = payload.high - payload.low
  const yc = span > 0 ? top + ((payload.high - payload.close) / span) * h : top
  const ty = Math.round(yc) + 0.5
  return (
    <g>
      <line x1={cx} x2={cx} y1={top} y2={top + h} stroke={BAR_BLUE} strokeWidth={1} />
      <line x1={cx} x2={cx + 2.5} y1={ty} y2={ty} stroke={BAR_BLUE} strokeWidth={1} />
    </g>
  )
}

function renderDot(props: any) {
  const { cx, cy, value, index } = props
  if (value == null || cy == null || !Number.isFinite(cy)) return <g key={index} />
  return (
    <rect key={index} x={Math.round(cx) - 1.5} y={Math.round(cy) - 1.5} width={2} height={2}
      fill="#fff" stroke={BAR_BLUE} strokeWidth={1} />
  )
}

function renderArrow(props: any) {
  const { cx, cy } = props
  if (cx == null || cy == null) return <g />
  const x = Math.round(cx)
  const y = Math.round(cy)
  return <path d={`M${x - 4},${y} h8 v9 h4 l-8,7 l-8,-7 h4 z`} fill={ARROW_BLUE} />
}

function renderMonthTick(props: any) {
  const { x, y, payload } = props
  const k = monthDays.indexOf(Number(payload.value))
  if (k < 0) return <g />
  const label = monthNames[k]
  return (
    <text x={x} y={y} dy="0.71em" textAnchor="middle" fontSize={10} fontFamily={FONT}
      fontWeight={label === '2012' ? 'bold' : 'normal'} fill="#222">
      {label}
    </text>
  )
}

const panels = [
  {
    key: 'spy', top: 29, height: 423, kind: 'ohlc', months: true,
    rows: ohlcRows(spyHigh, spyLow, spyClose, spyEma), domain: [105.675, 142.82], ticks: spyTicks,
    fmt: (v: number) => String(v), title: 'SPY (Daily) 132.07', ema: 'EMA(50) 134.05', dash: spyDash, arrow: spyArrow,
  },
  {
    key: 'qqq', top: 467, height: 254, kind: 'ohlc', months: false,
    rows: ohlcRows(qqqHigh, qqqLow, qqqClose, qqqEma), domain: [49.087, 69.087], ticks: qqqTicks,
    fmt: (v: number) => String(v), title: 'QQQ (Daily) 62.13', ema: 'EMA(50) 63.45', dash: qqqDash, arrow: null,
  },
  {
    key: 'iwm', top: 721, height: 254, kind: 'ohlc', months: false,
    rows: ohlcRows(iwmHigh, iwmLow, iwmClose, iwmEma), domain: [58.852, 85.371], ticks: iwmTicks,
    fmt: (v: number) => v.toFixed(1), title: 'IWM (Daily) 75.34', ema: 'EMA(50) 77.81', dash: iwmDash, arrow: null,
  },
  {
    key: 'vix', top: 975, height: 255, kind: 'dots', months: false,
    rows: dotRows(vixRatio, vixEma), domain: [0.01893, 0.07147], ticks: vixTicks,
    fmt: (v: number) => v.toFixed(3), title: '$ONE:$VIX (Daily) 0.041', ema: 'EMA(50) 0.049', dash: vixDash, arrow: vixArrow,
  },
  {
    key: 'usd', top: 1230, height: 253, kind: 'dots', months: false,
    rows: dotRows(usdRatio, usdEma), domain: [0.011995, 0.01365], ticks: usdTicks,
    fmt: (v: number) => v.toFixed(4), title: '$ONE:$USD (Daily) 0.0121', ema: 'EMA(50) 0.0123', dash: null, arrow: usdArrow,
  },
  {
    key: 'tnx', top: 1483, height: 255, kind: 'ohlc', months: true,
    rows: ohlcRows(tnxHigh, tnxLow, tnxClose, tnxEma), domain: [13.856, 30.811], ticks: tnxTicks,
    fmt: (v: number) => String(v), title: '$TNX (Daily) 15.99', ema: 'EMA(50) 17.98', dash: null, arrow: tnxArrow,
  },
]

function BarIcon() {
  return (
    <svg width={10} height={10} style={{ marginRight: 3, verticalAlign: -1 }}>
      <path d="M2.5,1 v8 M0,3.5 h2.5 M2.5,7.5 h2 M7.5,2 v7 M5.5,4.5 h2 M7.5,6.5 h2" stroke={BAR_BLUE} strokeWidth={1} fill="none" />
    </svg>
  )
}

function DotIcon() {
  return (
    <svg width={11} height={10} style={{ marginRight: 2, verticalAlign: -1 }}>
      <rect x={0.5} y={5.5} width={2} height={2} fill="#fff" stroke={BAR_BLUE} />
      <rect x={5.5} y={2.5} width={2} height={2} fill="#fff" stroke={BAR_BLUE} />
    </svg>
  )
}

function Panel({ p }: { p: any }) {
  const chartHeight = p.height + (p.months ? 18 : 0)
  return (
    <>
      <div style={{ position: 'absolute', left: 0, top: p.top }}>
        <ComposedChart width={990} height={chartHeight} data={p.rows} barCategoryGap={0} barGap={0}
          margin={{ top: 0, right: 13, bottom: 0, left: 16 }}>
          <XAxis dataKey="i" type="category" hide={!p.months} ticks={monthDays} interval={0} height={18}
            tick={renderMonthTick} tickSize={3} tickLine={{ stroke: '#999' }} axisLine={false} />
          <YAxis orientation="right" type="number" width={40} domain={p.domain} allowDataOverflow
            ticks={p.ticks} interval={0} tickFormatter={p.fmt} tickSize={3} tickMargin={1}
            tick={{ fontSize: 9.5, fill: '#222', fontFamily: FONT }} tickLine={{ stroke: '#999' }} axisLine={false} />
          {p.kind === 'ohlc' ? (
            <Bar dataKey="range" shape={renderOhlc} isAnimationActive={false} />
          ) : (
            <Line dataKey="v" stroke="none" strokeWidth={0} dot={renderDot} activeDot={false} isAnimationActive={false} />
          )}
          <Line dataKey="ema" type="monotone" connectNulls stroke={EMA_BLUE} strokeWidth={1.4}
            dot={false} activeDot={false} isAnimationActive={false} />
          {p.dash && (
            <ReferenceLine segment={[{ x: p.dash[0], y: p.dash[1] }, { x: p.dash[2], y: p.dash[3] }]}
              stroke={DASH_BLUE} strokeWidth={1} strokeDasharray="3 2" ifOverflow="visible" />
          )}
          {p.arrow && (
            <ReferenceDot x={p.arrow[0]} y={p.arrow[1]} r={0} shape={renderArrow} ifOverflow="visible" />
          )}
        </ComposedChart>
      </div>
      <div style={{
        position: 'absolute', left: 16, top: p.top, width: 922, height: p.height + 1, boxSizing: 'border-box',
        border: '1px solid #b9b9b9', borderBottom: p.months ? '1px dotted #999' : '1px solid #b9b9b9',
        pointerEvents: 'none',
      }} />
      <div style={{
        position: 'absolute', left: 938, top: p.top, height: p.height, borderLeft: '2px dotted #c8c8c8',
        pointerEvents: 'none',
      }} />
      <div style={{ position: 'absolute', left: 17, top: p.top + 2, lineHeight: '12px' }}>
        <div style={{ display: 'inline-block', background: '#fff', fontSize: 10.5, color: '#111', fontFamily: FONT, paddingRight: 2 }}>
          {p.kind === 'ohlc' ? <BarIcon /> : <DotIcon />}
          {p.title}
        </div>
        <br />
        <div style={{ display: 'inline-block', background: '#fff', fontSize: 10, color: '#1a1a8c', fontFamily: NARROW, paddingRight: 2 }}>
          <span style={{ display: 'inline-block', width: 11, height: 2, background: '#1a1a8c', verticalAlign: 3, marginRight: 1 }} />
          {p.ema}
        </div>
      </div>
    </>
  )
}

export default function App() {
  return (
    <div style={{ position: 'absolute', left: 0, top: 0, width: 990, height: 1752, overflow: 'hidden', background: '#fff', fontFamily: FONT, color: '#111' }}>
      <div style={{ position: 'absolute', left: 16, top: 2, whiteSpace: 'nowrap' }}>
        <span style={{ fontWeight: 'bold', fontSize: 12.5 }}>SPY</span>
        <span style={{ fontSize: 9.5 }}> (S&amp;P 500 SPDRs) NYSE</span>
      </div>
      <div style={{ position: 'absolute', left: 16, top: 17, fontSize: 9.5 }}>13-Jun-2012</div>
      <div style={{ position: 'absolute', right: 53, top: 2, fontSize: 10, color: '#555' }}>© StockCharts.com</div>
      <div style={{ position: 'absolute', right: 62, top: 17, fontSize: 9.5, whiteSpace: 'nowrap' }}>
        <b>Open</b> 132.53 &nbsp;<b>High</b> 133.36 &nbsp;<b>Low</b> 131.62 &nbsp;<b>Close</b> 132.07 &nbsp;<b>Volume</b> 167.6M &nbsp;<b>Chg</b> -0.85 (-0.64%)
      </div>
      <svg style={{ position: 'absolute', left: 930, top: 21 }} width={7} height={5}>
        <path d="M0,0 h7 l-3.5,4.5 z" fill="#a01030" />
      </svg>
      {panels.map((p) => <Panel key={p.key} p={p} />)}
    </div>
  )
}
